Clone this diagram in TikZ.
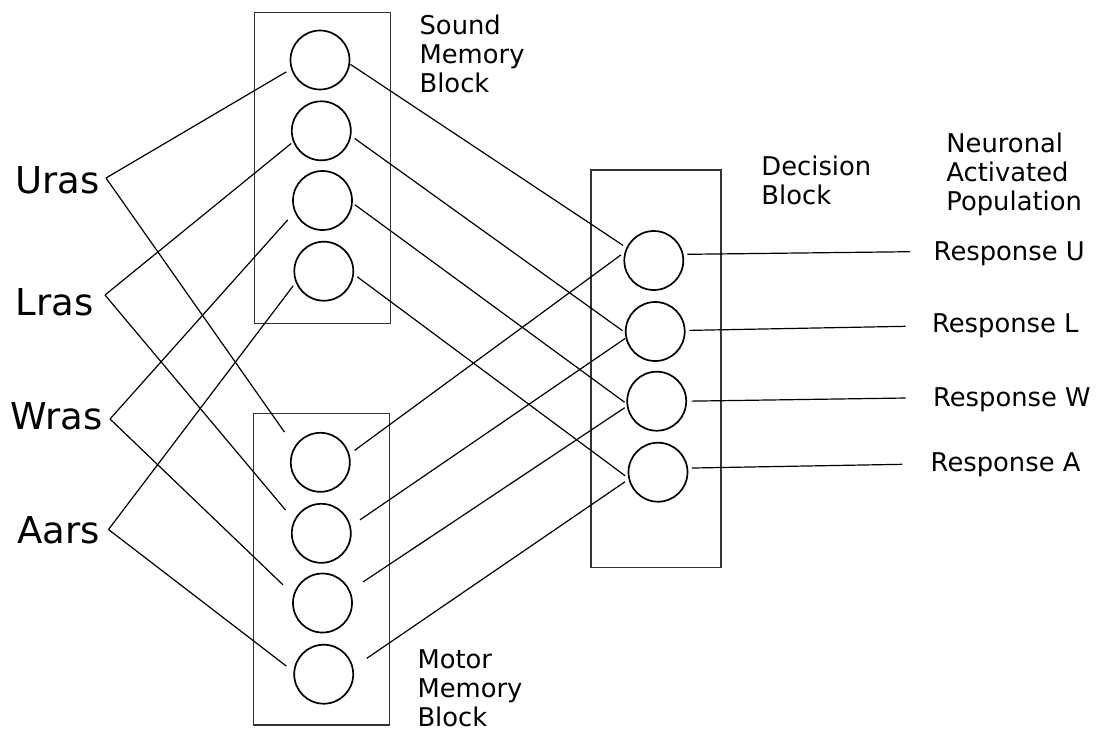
\documentclass[tikz,border=0pt]{standalone}
\usepackage{fontspec}
\setmainfont{DejaVu Sans}
\begin{document}
\begin{tikzpicture}[x=1pt,y=-1pt,
  neuron/.style={circle,draw=black,line width=1.7pt,minimum size=59pt,inner sep=0pt,outer sep=0pt},
  blockbox/.style={rectangle,draw=black!80,line width=1.3pt,inner sep=0pt,outer sep=0pt},
  wire/.style={draw=black,line width=1.2pt},
  biglabel/.style={anchor=base west,inner sep=0pt,font=\fontsize{37}{44}\selectfont},
  resplabel/.style={anchor=base west,inner sep=0pt,font=\fontsize{25.8}{29.2}\selectfont},
  blocklabel/.style={anchor=north west,inner sep=0pt,align=left,font=\fontsize{25.8}{29.2}\selectfont}]
\useasboundingbox (0,0) rectangle (1102,729);

% memory and decision blocks
\node[blockbox,minimum width=136.4pt,minimum height=311pt] (soundblock) at (322.5,167.8) {};
\node[blockbox,minimum width=136pt,minimum height=311.7pt] (motorblock) at (321.3,569.2) {};
\node[blockbox,minimum width=130pt,minimum height=397.7pt] (decisionblock) at (656,368.8) {};

% sound memory neurons
\node[neuron] (s1) at (320,60) {};
\node[neuron] (s2) at (321.3,130.8) {};
\node[neuron] (s3) at (322.5,200.5) {};
\node[neuron] (s4) at (323.8,271.2) {};
% motor memory neurons
\node[neuron] (m1) at (320.3,462.3) {};
\node[neuron] (m2) at (321.3,533.3) {};
\node[neuron] (m3) at (322.5,603) {};
\node[neuron] (m4) at (323.7,674.2) {};
% decision neurons
\node[neuron] (d1) at (653.8,260.5) {};
\node[neuron] (d2) at (655.2,331.5) {};
\node[neuron] (d3) at (656.7,401.2) {};
\node[neuron] (d4) at (658,472.2) {};

% input labels
\node[biglabel] (uras) at (15.3,193) {Uras};
\node[biglabel] (lras) at (15.4,315) {Lras};
\node[biglabel] (wras) at (10.3,429.3) {Wras};
\node[biglabel] (aars) at (17,543.3) {Aars};
\coordinate (uR) at (106,178);
\coordinate (lR) at (105,295);
\coordinate (wR) at (110,419);
\coordinate (aR) at (108.5,529.5);

% output labels
\node[resplabel] (respU) at (933.5,260) {Response U};
\node[resplabel] (respL) at (931.8,332.2) {Response L};
\node[resplabel] (respW) at (932.8,406.8) {Response W};
\node[resplabel] (respA) at (930.5,471.8) {Response A};
\coordinate (rU) at (910,251.7);
\coordinate (rL) at (905.7,326.3);
\coordinate (rW) at (905.7,398);
\coordinate (rA) at (902.3,464.3);

% block titles
\node[blocklabel] (soundtitle) at (419.4,14.3) {Sound\\Memory\\Block};
\node[blocklabel] (motortitle) at (417.3,649.3) {Motor\\Memory\\Block};
\node[blocklabel] (decisiontitle) at (761.2,155.2) {Decision\\Block};
\node[blocklabel] (poptitle) at (946.2,132.5) {Neuronal\\Activated\\Population};

% inputs to memory blocks
\draw[wire,shorten >=6.4pt] (uR) -- (s1.197.3);
\draw[wire,shorten >=18.4pt] (uR) -- (m1.149.5);
\draw[wire,shorten >=3.3pt] (lR) -- (s2.201.3);
\draw[wire,shorten >=14.1pt] (lR) -- (m2.155.2);
\draw[wire,shorten >=11.1pt] (wR) -- (s3.202.5);
\draw[wire,shorten >=15.2pt] (wR) -- (m3.165.3);
\draw[wire,shorten >=5.1pt] (aR) -- (s4.201.7);
\draw[wire,shorten >=10pt] (aR) -- (m4.176.4);

% sound memory to decision
\draw[wire,shorten <=1.4pt,shorten >=4.8pt] (s1.353.9) -- (d1.155);
\draw[wire,shorten <=5.3pt,shorten >=4pt] (s2.351.4) -- (d2.183.1);
\draw[wire,shorten <=3.7pt,shorten >=3.4pt] (s3.356.9) -- (d3.186.6);
\draw[wire,shorten <=5.1pt,shorten >=5.1pt] (s4.355.4) -- (d4.193);

% motor memory to decision
\draw[wire,shorten <=7.3pt,shorten >=5.9pt] (m1.15.8) -- (d1.162.7);
\draw[wire,shorten <=12.1pt,shorten >=1.5pt] (m2.13.9) -- (d2.192.7);
\draw[wire,shorten <=16.3pt,shorten >=3.4pt] (m3.24.1) -- (d3.189.6);
\draw[wire,shorten <=17.2pt,shorten >=5.1pt] (m4.12.2) -- (d4.193);

% decision to responses
\draw[wire,shorten <=4.8pt] (d1.12.1) -- (rU);
\draw[wire,shorten <=4.6pt] (d2.2.5) -- (rL);
\draw[wire,shorten <=5.5pt] (d3.0.3) -- (rW);
\draw[wire,shorten <=4.6pt] (d4.8.3) -- (rA);
\end{tikzpicture}
\end{document}
